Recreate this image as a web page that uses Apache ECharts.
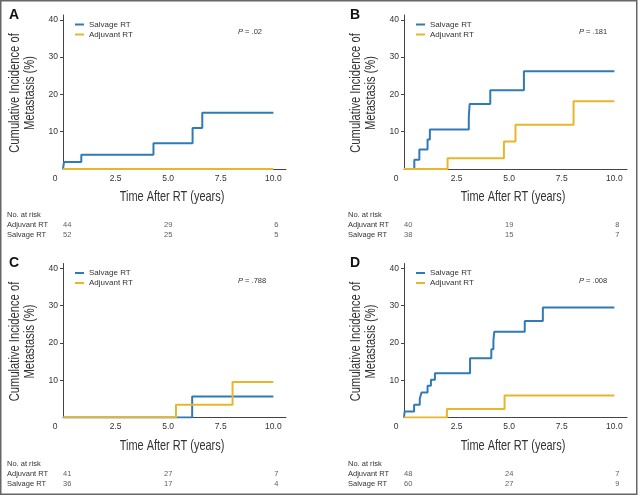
<!DOCTYPE html>
<html>
<head>
<meta charset="utf-8">
<script src="https://cdn.jsdelivr.net/npm/echarts@6/dist/echarts.min.js"></script>
<style>
  html, body { margin: 0; padding: 0; background: #fff; }
  #chart { width: 640px; height: 496px; }
</style>
</head>
<body>
<div id="chart"></div>
<script>
// 刻度、分组
const xTicks = [0, 2.5, 5, 7.5, 10];
const yTicks = [10, 20, 30, 40];
const groups = ['Salvage RT', 'Adjuvant RT'];
const riskRows = ['No. at risk', 'Adjuvant RT', 'Salvage RT'];
const riskTimes = [0, 5, 10];
const xTitle = 'Time After RT (years)';
const yTitle = 'Cumulative Incidence of\nMetastasis (%)';

// A
const aSalvageT = [0, 0.05, 0.87, 4.3, 6.16, 6.62, 10];
const aSalvageV = [0, 1.9, 3.8, 6.9, 11.0, 15.1, 15.1];
const aAdjuvantT = [0, 10];
const aAdjuvantV = [0, 0];
const aRiskAdjuvant = [44, 29, 6];
const aRiskSalvage = [52, 25, 5];
const aP = '.02';

// B
const bSalvageT = [0, 0.49, 0.73, 1.12, 1.23, 3.08, 3.12, 4.1, 5.7, 10];
const bSalvageV = [0, 2.5, 5.2, 7.9, 10.6, 14.0, 17.4, 21.1, 26.2, 26.2];
const bAdjuvantT = [0, 2.07, 4.75, 5.3, 8.06, 10];
const bAdjuvantV = [0, 2.9, 7.4, 11.9, 18.2, 18.2];
const bRiskAdjuvant = [40, 19, 8];
const bRiskSalvage = [38, 15, 7];
const bP = '.181';

// C
const cSalvageT = [0, 6.14, 10];
const cSalvageV = [0, 5.6, 5.6];
const cAdjuvantT = [0, 5.37, 8.06, 10];
const cAdjuvantV = [0, 3.4, 9.5, 9.5];
const cRiskAdjuvant = [41, 27, 7];
const cRiskSalvage = [36, 17, 4];
const cP = '.788';

// D
const dSalvageT = [0, 0.03, 0.48, 0.75, 0.83, 1.12, 1.28, 1.47, 3.14, 4.15, 4.25, 4.29, 5.74, 6.6, 10];
const dSalvageV = [0, 1.6, 3.4, 5.0, 6.7, 8.5, 10.1, 11.9, 15.9, 18.3, 20.6, 23.0, 25.9, 29.5, 29.5];
const dAdjuvantT = [0, 2.04, 4.78, 10];
const dAdjuvantV = [0, 2.3, 5.9, 5.9];
const dRiskAdjuvant = [48, 24, 7];
const dRiskSalvage = [60, 27, 9];
const dP = '.008';

const panels = [
  { letter: 'A', sT: aSalvageT, sV: aSalvageV, aT: aAdjuvantT, aV: aAdjuvantV, rA: aRiskAdjuvant, rS: aRiskSalvage, p: aP },
  { letter: 'B', sT: bSalvageT, sV: bSalvageV, aT: bAdjuvantT, aV: bAdjuvantV, rA: bRiskAdjuvant, rS: bRiskSalvage, p: bP },
  { letter: 'C', sT: cSalvageT, sV: cSalvageV, aT: cAdjuvantT, aV: cAdjuvantV, rA: cRiskAdjuvant, rS: cRiskSalvage, p: cP },
  { letter: 'D', sT: dSalvageT, sV: dSalvageV, aT: dAdjuvantT, aV: dAdjuvantV, rA: dRiskAdjuvant, rS: dRiskSalvage, p: dP },
];

// 每个小图的左上角(绘图区)
const origins = [[63, 15], [404, 15], [63, 263.5], [404, 263.5]];
const W = 223, H = 154;
const XMAX = 10.6, YMAX = 41.3;
const FONT = "'Liberation Sans', Arial, sans-serif";
const BLUE = '#2f7bb6';
const YELLOW = '#e9b62b';
const TEXT = '#333';
const AXIS = '#444';

const zip = (t, v) => t.map((x, i) => [x, v[i]]);

const grid = [], xAxis = [], yAxis = [], series = [], legend = [], graphic = [];

panels.forEach((p, i) => {
  const [L, T] = origins[i];
  grid.push({ left: L, top: T, width: W, height: H });
  grid.push({ left: L, top: T + 195, width: W, height: 30 });

  xAxis.push({
    type: 'value', gridIndex: 2 * i, min: 0, max: XMAX,
    axisLine: { lineStyle: { color: AXIS, width: 1 } },
    axisTick: { show: false },
    splitLine: { show: false },
    axisLabel: {
      customValues: xTicks, margin: 5, fontSize: 8.5, color: TEXT, fontFamily: FONT,
      formatter: v => (v === 0 ? '{z|0}' : v.toFixed(1)),
      rich: { z: { padding: [0, 16, 0, 0], fontSize: 8.5, color: TEXT, fontFamily: FONT } },
    },
  });
  yAxis.push({
    type: 'value', gridIndex: 2 * i, min: 0, max: YMAX,
    axisLine: { show: true, lineStyle: { color: AXIS, width: 1 } },
    axisTick: { show: true, customValues: yTicks, length: 3, lineStyle: { color: AXIS } },
    splitLine: { show: false },
    axisLabel: { customValues: yTicks, margin: 5, fontSize: 8.5, color: TEXT, fontFamily: FONT },
  });

  // 风险人数表
  xAxis.push({ type: 'value', gridIndex: 2 * i + 1, min: 0, max: XMAX, show: false });
  yAxis.push({
    type: 'category', gridIndex: 2 * i + 1, data: riskRows, inverse: true,
    axisLine: { show: false }, axisTick: { show: false }, splitLine: { show: false },
    axisLabel: { interval: 0, align: 'left', margin: 56, fontSize: 7.5, color: TEXT, fontFamily: FONT },
  });

  series.push({
    name: groups[0], type: 'line', step: 'end', xAxisIndex: 2 * i, yAxisIndex: 2 * i,
    data: zip(p.sT, p.sV), showSymbol: false, symbol: 'none', silent: true,
    lineStyle: { color: BLUE, width: 2 }, itemStyle: { color: BLUE }, z: 3,
  });
  series.push({
    name: groups[1], type: 'line', step: 'end', xAxisIndex: 2 * i, yAxisIndex: 2 * i,
    data: zip(p.aT, p.aV), showSymbol: false, symbol: 'none', silent: true,
    lineStyle: { color: YELLOW, width: 2 }, itemStyle: { color: YELLOW }, z: 4,
  });

  const riskData = [];
  [[riskRows[1], p.rA], [riskRows[2], p.rS]].forEach(([row, vals]) => {
    vals.forEach((n, k) => {
      const t = riskTimes[k];
      riskData.push({
        value: [t, row],
        label: {
          formatter: String(n),
          align: t === 0 ? 'left' : 'center',
          offset: t === 10 ? [3, 0] : [0, 0],
        },
      });
    });
  });
  series.push({
    type: 'scatter', xAxisIndex: 2 * i + 1, yAxisIndex: 2 * i + 1, silent: true,
    symbolSize: 1, itemStyle: { color: 'rgba(0,0,0,0)' }, data: riskData,
    label: { show: true, position: 'inside', fontSize: 7.5, color: TEXT, fontFamily: FONT },
  });

  legend.push({
    data: groups, orient: 'vertical', left: L + 12, top: T + 4.5, padding: 0, itemGap: 0,
    icon: 'rect', itemWidth: 9, itemHeight: 2, selectedMode: false,
    textStyle: { fontSize: 8, lineHeight: 10, color: TEXT, fontFamily: FONT },
  });

  // 面板字母、P 值、坐标轴标题
  graphic.push({
    type: 'text', x: L - 49, y: T, silent: true,
    style: { text: p.letter, align: 'center', verticalAlign: 'middle', fontSize: 14, fontWeight: 'bold', fill: '#111', fontFamily: FONT },
  });
  graphic.push({
    type: 'text', x: L + 175, y: T + 17, silent: true,
    style: {
      text: '{i|P} = ' + p.p, verticalAlign: 'middle', fontSize: 7.5, fill: TEXT, fontFamily: FONT,
      rich: { i: { fontStyle: 'italic', fontSize: 7.5, fill: TEXT, fontFamily: FONT } },
    },
  });
  graphic.push({
    type: 'text', x: L + 109, y: T + 182, scaleX: 0.73, silent: true,
    style: { text: xTitle, align: 'center', verticalAlign: 'middle', fontSize: 15, fill: TEXT, fontFamily: FONT },
  });
  graphic.push({
    type: 'text', x: L - 40.5, y: T + 78, rotation: Math.PI / 2, scaleX: 0.8, silent: true,
    style: { text: yTitle, align: 'center', verticalAlign: 'middle', fontSize: 14, lineHeight: 15.5, fill: TEXT, fontFamily: FONT },
  });
});

graphic.push({
  type: 'rect', shape: { x: 0.75, y: 0.75, width: 636, height: 493.5 },
  style: { fill: 'none', stroke: '#666', lineWidth: 1.5 }, silent: true,
});

const chart = echarts.init(document.getElementById('chart'));
chart.setOption({
  animation: false,
  backgroundColor: '#fff',
  grid, xAxis, yAxis, series, legend, graphic,
});
</script>
</body>
</html>
